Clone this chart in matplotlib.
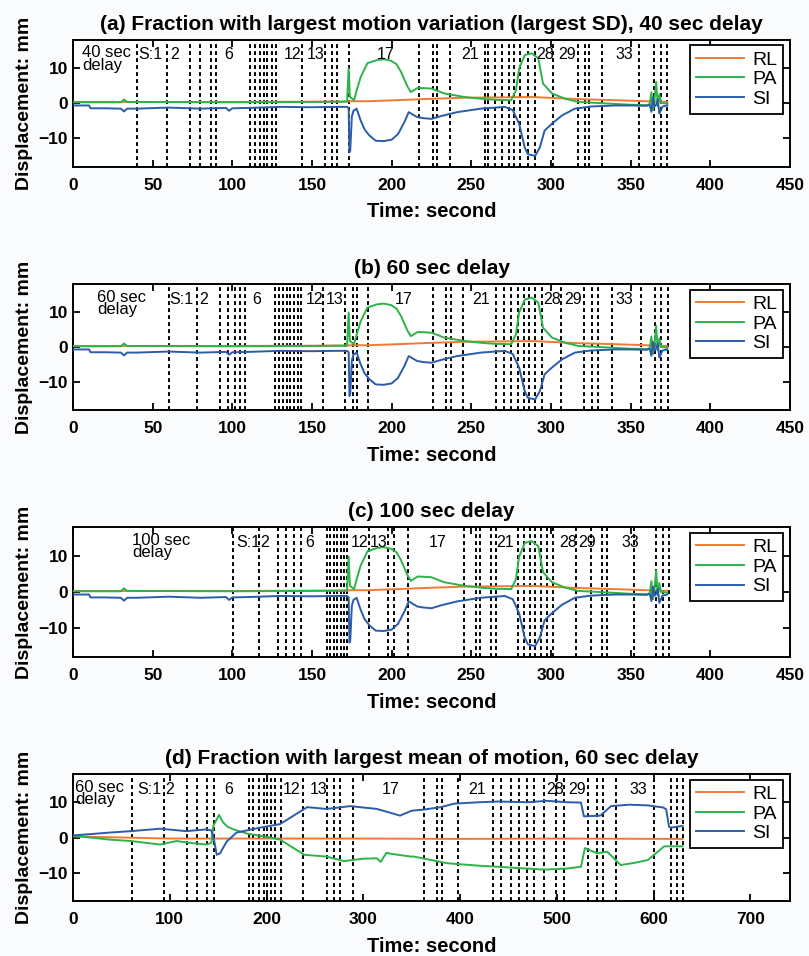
import numpy as np
import matplotlib
matplotlib.use("Agg")
import matplotlib.pyplot as plt

plt.rcParams['font.family'] = ['Liberation Sans', 'DejaVu Sans']

# colours of the three motion directions
c_rl = '#f07a32'
c_pa = '#2db34a'
c_si = '#2a5caa'

# ---- data for panels (a)-(c): same motion trace, different delays
t_abc = [0, 10, 11, 20, 30, 32, 34, 40, 60, 80, 96, 98, 100, 110, 130, 150, 165, 172, 173, 173.5,
         174, 175, 176, 178, 180.5, 183, 186, 190, 195, 200, 204, 208, 210.7, 216, 220, 225, 231,
         241, 256, 271, 276, 280, 283.5, 285.5, 290, 293, 296, 300.5, 307, 315, 325, 340, 350,
         360, 362, 363, 364, 365, 366, 367, 368, 370, 373]
si_abc = [-0.7, -0.7, -1.5, -1.5, -1.6, -2.4, -1.6, -1.6, -1.3, -1.6, -1.4, -2.2, -1.5, -1.4, -1.1,
          -1.2, -1.1, -1.1, -1.5, -14.0, -13.5, -3.9, -2.2, -1.6, -4.9, -7.5, -9.2, -10.7, -10.8,
          -10.4, -8.8, -5.4, -2.6, -4.0, -4.3, -4.5, -3.7, -2.6, -1.6, -1.1, -2.0, -5.9, -12.6,
          -14.5, -15.0, -12.6, -7.8, -5.9, -3.5, -1.6, -1.0, -0.7, -0.7, -0.8, -0.5, -2.5, 1.5,
          -1.0, -0.5, 1.0, -3.0, -1.0, -0.7]
t_pa = [0, 30, 32, 34, 100, 150, 172, 173, 173.8, 176.4, 178, 180.6, 184.8, 191, 195, 199.5, 203,
        205.8, 210, 212, 216.4, 224.8, 233, 245.7, 256, 265, 275, 278, 280, 283.6, 287.8, 292, 295,
        300.6, 309, 317, 330, 350, 360, 362, 363, 364, 365, 366, 367, 368, 369, 373]
pa_abc = [0.2, 0.2, 1.0, 0.3, 0.2, 0.3, 0.4, 9.8, 1.7, 0.8, 3.5, 7.4, 11.3, 12.2, 12.4, 12.0, 11.0,
          8.9, 4.6, 3.1, 4.3, 4.1, 2.7, 1.7, 1.2, 0.9, 0.8, 3.6, 9.8, 13.6, 14.1, 12.7, 5.5, 2.7,
          1.2, 0.3, 0.0, -0.5, -0.6, -0.3, 3.0, -2.0, 1.0, 6.0, -1.0, 2.5, 0.0, -0.2]
t_rl = [0, 100, 172, 174, 185, 203.7, 220, 245.7, 270, 288, 317, 340, 360, 373]
rl_abc = [0.3, 0.3, 0.4, 0.5, 0.5, 0.8, 1.1, 1.5, 1.6, 1.7, 1.1, 0.8, 0.5, 0.3]

# ---- data for panel (d)
t_si_d = [0, 20, 38, 60, 90, 117, 138, 143, 146, 148.5, 152, 155, 159, 169, 193.5, 214, 228, 242,
          262, 287, 300, 314, 328, 338, 350, 362, 380, 394, 420, 439, 470, 490, 510, 525, 528,
          545, 556, 575, 594, 610, 613, 616, 618, 630]
si_d = [0.6, 1.0, 1.4, 1.8, 2.5, 1.8, 2.3, 2.0, -1.0, -4.9, -4.5, -3.0, -1.1, 1.4, 2.8, 3.8, 6.2,
        8.6, 8.1, 8.9, 8.5, 8.1, 7.0, 6.2, 7.6, 7.9, 8.6, 9.6, 10.0, 10.2, 10.0, 10.4, 10.0, 9.9,
        6.0, 6.2, 8.9, 9.3, 9.1, 8.5, 8.0, 3.0, 2.8, 3.3]
t_pa_d = [0, 38, 60, 90, 107, 120, 138, 143, 145, 151, 155, 160, 166, 180, 204, 214, 228, 239, 262,
          280, 300, 314, 318, 324, 328, 349, 352, 387, 420, 439, 487, 510, 525, 529, 542, 552, 566,
          580, 594, 611, 630]
pa_d = [0.5, -0.6, -1.0, -2.0, -1.0, -1.5, -2.0, -1.5, 3.3, 6.4, 4.3, 3.0, 2.3, 1.1, 0.0, -0.6,
        -3.0, -4.9, -5.4, -6.7, -6.0, -5.9, -6.9, -4.3, -4.6, -5.4, -5.4, -7.3, -8.0, -8.3, -9.1,
        -8.8, -8.3, -3.0, -4.5, -4.0, -7.8, -7.2, -6.4, -2.5, -2.5]
t_rl_d = [0, 50, 100, 200, 300, 400, 500, 630]
rl_d = [0.3, 0.0, -0.3, -0.3, -0.3, -0.4, -0.3, -0.4]

# ---- segment boundaries (dashed lines) and their labels
vl_a = [40, 59, 73.5, 80, 86.5, 90, 111, 114.5, 117.5, 120, 122, 125, 127.5, 143.5, 158, 162.5,
        166, 173.5, 217, 226, 228.5, 236.5, 258.5, 260.5, 265, 269.5, 273.5, 276.5, 280.5, 285.5,
        290, 301.5, 317, 321.5, 324, 332, 355.5, 364.5, 369, 373]
vl_b = [60, 78, 92, 97.5, 101.5, 105, 108, 126.5, 129, 132, 134.5, 136.5, 138.5, 141, 143, 157,
        170.5, 175.5, 178, 185, 226, 234, 237.5, 245, 265.5, 270.5, 275, 279, 283, 286.5, 290,
        294.5, 306.5, 320.5, 326, 329.5, 338.5, 356.5, 365, 369, 373.5]
vl_c = [100.5, 117, 128.5, 133.5, 138.5, 143, 159.5, 161.5, 163.5, 166, 168, 170, 172, 185.5,
        197.5, 201.5, 210, 245.5, 253, 255.5, 262.5, 265.5, 279.5, 283, 287, 290, 293.5, 297.5,
        301.5, 315.5, 325, 332, 335, 352, 366, 370, 374]
vl_d = [60.5, 94, 118, 128, 138.5, 146, 181.5, 186.5, 192, 197, 200.5, 204.5, 209, 214.5, 237.5,
        262, 269.5, 275.5, 289.5, 362.5, 376.5, 381.5, 398, 434.5, 442, 452.5, 461, 469.5, 476.5,
        487, 499, 507.5, 532, 542, 547.5, 561, 600.5, 617.5, 624, 630]

seg_names = ['S:1', '2', '6', '12', '13', '17', '21', '28', '29', '33']
seg_x_a = [48.5, 64, 98, 137.5, 152, 196, 249, 296, 310, 346]
seg_x_b = [68, 82, 115.5, 151.5, 164, 207.5, 256, 301, 314, 346]
seg_x_c = [109.8, 120, 148.5, 180, 191.8, 229, 271, 310.7, 322.8, 350]
seg_x_d = [78.5, 100, 160.5, 226, 254, 328.5, 418, 498, 520.5, 584]

titles = ['(a) Fraction with largest motion variation (largest SD), 40 sec delay',
          '(b) 60 sec delay',
          '(c) 100 sec delay',
          '(d) Fraction with largest mean of motion, 60 sec delay']
delay_text = ['40 sec\ndelay', '60 sec\ndelay', '100 sec\ndelay', '60 sec\ndelay']
delay_x = [5.5, 15, 37, 2]

fig = plt.figure(figsize=(8.09, 9.56), dpi=100, facecolor='#fafbfd')
W, H = 809, 956
boxes = [(39.5, 166.5), (284, 410), (527, 657), (774, 901)]

panels = [
    (t_rl, rl_abc, t_pa, pa_abc, t_abc, si_abc, vl_a, seg_x_a, 450, np.arange(0, 451, 50)),
    (t_rl, rl_abc, t_pa, pa_abc, t_abc, si_abc, vl_b, seg_x_b, 450, np.arange(0, 451, 50)),
    (t_rl, rl_abc, t_pa, pa_abc, t_abc, si_abc, vl_c, seg_x_c, 450, np.arange(0, 451, 50)),
    (t_rl_d, rl_d, t_pa_d, pa_d, t_si_d, si_d, vl_d, seg_x_d, 741, np.arange(0, 701, 100)),
]

for i, (top, bot) in enumerate(boxes):
    ax = fig.add_axes([73 / W, 1 - bot / H, 717 / W, (bot - top) / H])
    tr, rl, tp, pa, ts, si, vl, segx, xmax, xt = panels[i]
    for x in vl:
        ax.axvline(x, color='k', lw=1.4, ls=(0, (2, 1.6)), zorder=1)
    ax.plot(tr, rl, color=c_rl, lw=1.4, label='RL', zorder=3)
    ax.plot(tp, pa, color=c_pa, lw=1.4, label='PA', zorder=3)
    ax.plot(ts, si, color=c_si, lw=1.4, label='SI', zorder=3)
    for name, x in zip(seg_names, segx):
        ax.text(x, 13.7, name, ha='center', va='center', fontsize=11.5, zorder=4)
    ax.text(delay_x[i], 16.4, delay_text[i], ha='left', va='top', fontsize=12,
            linespacing=0.8, zorder=4)
    ax.set_xlim(0, xmax)
    ax.set_ylim(-18, 18)
    ax.set_xticks(xt)
    ax.set_yticks([-10, 0, 10])
    ax.tick_params(direction='in', length=5, width=1.3, top=True, right=True, labelsize=12.5)
    ax.tick_params(axis='x', pad=8)
    for lab in ax.get_xticklabels() + ax.get_yticklabels():
        lab.set_fontweight('bold')
    for s in ax.spines.values():
        s.set_linewidth(1.4)
    ax.set_title(titles[i], fontsize=15, fontweight='bold', pad=7)
    ax.set_xlabel('Time: second', fontsize=14.5, fontweight='bold', labelpad=7)
    ax.set_ylabel('Displacement: mm', fontsize=14, fontweight='bold', labelpad=4)
    leg = ax.legend(loc='upper right', bbox_to_anchor=(0.99, 0.955), fontsize=14,
                    handlelength=2.5, handletextpad=0.4, labelspacing=0.1,
                    borderpad=0.3, borderaxespad=0, fancybox=False, framealpha=1)
    leg.get_frame().set_edgecolor('k')
    leg.get_frame().set_linewidth(1.3)

fig.savefig('out.png', dpi=100, facecolor=fig.get_facecolor())
